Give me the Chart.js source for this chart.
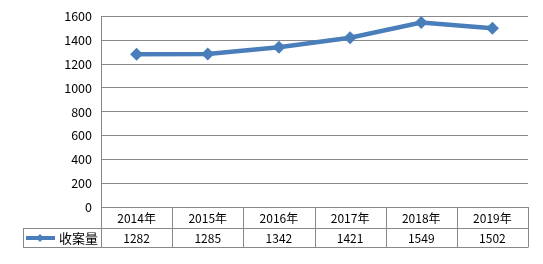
<!DOCTYPE html>
<html>
<head>
<meta charset="utf-8">
<script src="https://cdn.jsdelivr.net/npm/chart.js@4"></script>
<style>
  html, body { margin: 0; padding: 0; background: #fff; }
  #wrap { width: 543px; height: 264px; position: relative; }
</style>
</head>
<body>
<div id="wrap"><canvas id="chart"></canvas></div>
<script>
// chart data
const years = ['2014年', '2015年', '2016年', '2017年', '2018年', '2019年'];
const cases = [1282, 1285, 1342, 1421, 1549, 1502];
const seriesName = '收案量';
const yTicks = [0, 200, 400, 600, 800, 1000, 1200, 1400, 1600];

const blue = '#4A7EBB';
const gridGray = '#888888';
const font = '"Noto Sans CJK SC", "Noto Sans", sans-serif';

// draws the data table under the plot, like Excel's "data table" option
const dataTable = {
    id: 'dataTable',
    afterDraw(chart) {
        const ctx = chart.ctx;
        const x = chart.scales.x;
        const area = chart.chartArea;
        const rowH = 20;
        const top = area.bottom;
        const mid = top + rowH + 1;
        const bottom = mid + rowH - 1;
        const legendLeft = 23;
        const colW = (area.right - area.left) / years.length;

        ctx.save();
        ctx.strokeStyle = gridGray;
        ctx.lineWidth = 1;
        ctx.beginPath();
        // horizontal rules
        ctx.moveTo(area.left, top + 0.5); ctx.lineTo(area.right, top + 0.5);
        ctx.moveTo(legendLeft, mid + 0.5); ctx.lineTo(area.right, mid + 0.5);
        ctx.moveTo(legendLeft, bottom + 0.5); ctx.lineTo(area.right, bottom + 0.5);
        // vertical rules
        for (let i = 0; i <= years.length; i++) {
            const px = Math.round(area.left + i * colW) + 0.5;
            ctx.moveTo(px, top); ctx.lineTo(px, bottom + 0.5);
        }
        ctx.moveTo(legendLeft + 0.5, mid); ctx.lineTo(legendLeft + 0.5, bottom + 0.5);
        ctx.stroke();

        ctx.fillStyle = '#000';
        ctx.font = '12px ' + font;
        ctx.textAlign = 'center';
        ctx.textBaseline = 'middle';
        years.forEach((y, i) => {
            const cx = x.getPixelForValue(i);
            ctx.fillText(y, cx, top + rowH / 2 + 1);
            ctx.fillText(String(cases[i]), cx, mid + rowH / 2);
        });

        // legend key
        const ly = mid + rowH / 2;
        ctx.strokeStyle = blue;
        ctx.lineWidth = 4;
        ctx.beginPath();
        ctx.moveTo(26, ly); ctx.lineTo(55, ly);
        ctx.stroke();
        ctx.fillStyle = blue;
        ctx.beginPath();
        ctx.moveTo(40, ly - 4); ctx.lineTo(44, ly); ctx.lineTo(40, ly + 4); ctx.lineTo(36, ly);
        ctx.closePath();
        ctx.fill();
        ctx.fillStyle = '#000';
        ctx.font = '13px ' + font;
        ctx.textAlign = 'left';
        ctx.fillText(seriesName, 59, ly);
        ctx.restore();
    }
};

const ctx = document.getElementById('chart').getContext('2d');
new Chart(ctx, {
    type: 'line',
    data: {
        labels: years,
        datasets: [{
            label: seriesName,
            data: cases,
            borderColor: blue,
            backgroundColor: blue,
            borderWidth: 4.5,
            pointStyle: 'rectRot',
            pointRadius: 6.5,
            pointBackgroundColor: blue,
            pointBorderColor: blue,
            pointBorderWidth: 0,
            tension: 0
        }]
    },
    options: {
        responsive: true,
        maintainAspectRatio: false,
        animation: false,
        layout: { padding: { top: 4, right: 15, bottom: 57, left: 0 } },
        plugins: {
            legend: { display: false },
            tooltip: { enabled: false }
        },
        scales: {
            x: {
                type: 'category',
                offset: true,
                display: false
            },
            y: {
                min: 0,
                max: 1600,
                afterBuildTicks(scale) {
                    scale.ticks = yTicks.map(v => ({ value: v }));
                },
                afterFit(scale) { scale.width = 101; },
                grid: {
                    color: gridGray,
                    lineWidth: 1,
                    drawTicks: false
                },
                border: { display: true, color: gridGray, width: 1 },
                ticks: {
                    color: '#000',
                    padding: 9,
                    font: { family: font, size: 12.5 },
                    callback: v => String(v)
                }
            }
        }
    },
    plugins: [dataTable]
});
</script>
</body>
</html>
